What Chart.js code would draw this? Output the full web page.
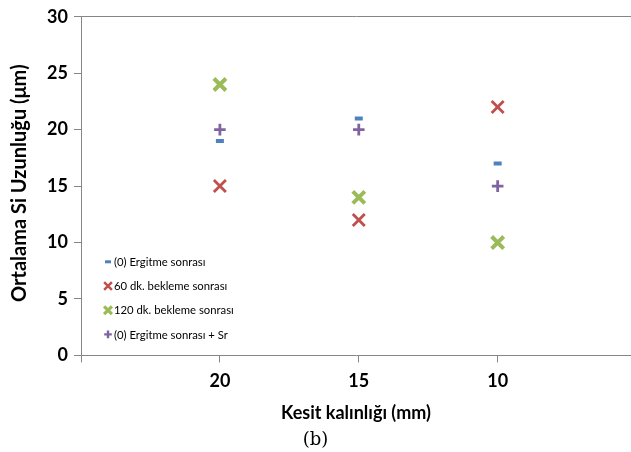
<!DOCTYPE html>
<html>
<head>
<meta charset="utf-8">
<script src="https://cdn.jsdelivr.net/npm/chart.js@4.4.1/dist/chart.umd.min.js"></script>
<style>
  html, body { margin: 0; padding: 0; background: #fff; }
  #wrap { width: 631px; height: 452px; }
</style>
</head>
<body>
<div id="wrap"><canvas id="chart" width="631" height="452"></canvas></div>
<script>
// Dữ liệu
const xLabels = ['', '20', '15', '10'];
const xPositions = [1, 2, 3];
const seriesNames = ['(0) Ergitme sonrası', '60 dk. bekleme sonrası', '120 dk. bekleme sonrası', '(0) Ergitme sonrası + Sr'];
const seriesColors = ['#4F81BD', '#C0504D', '#9BBB59', '#8064A2'];
const ergitme = [19, 21, 17];
const bekleme60 = [15, 12, 22];
const bekleme120 = [24, 14, 10];
const ergitmeSr = [20, 20, 15];
const yTicks = [0, 5, 10, 15, 20, 25, 30];

const FONT = 'Lato, Calibri, sans-serif';
const AXIS_GRAY = '#868686';

const markerStyles = [
    { pointStyle: 'line', radius: 4, borderWidth: 4, legendRadius: 3, legendWidth: 3 },
    { pointStyle: 'crossRot', radius: 8.5, borderWidth: 2.8, legendRadius: 5.5, legendWidth: 2.5 },
    { pointStyle: 'crossRot', radius: 8.5, borderWidth: 4, legendRadius: 5.5, legendWidth: 3.2 },
    { pointStyle: 'cross', radius: 5.8, borderWidth: 2.8, legendRadius: 3.8, legendWidth: 2.4 }
];

function toPoints(values) {
    return values.map((v, i) => ({ x: xPositions[i], y: v }));
}

const allSeries = [ergitme, bekleme60, bekleme120, ergitmeSr];

const datasets = allSeries.map((values, i) => ({
    label: seriesNames[i],
    data: toPoints(values),
    showLine: false,
    borderColor: seriesColors[i],
    backgroundColor: seriesColors[i],
    pointStyle: markerStyles[i].pointStyle,
    pointRadius: markerStyles[i].radius,
    pointBorderWidth: markerStyles[i].borderWidth,
    pointHoverRadius: markerStyles[i].radius
}));

// Chú thích nằm trong vùng vẽ + tiêu đề trục y
const insideLegend = {
    id: 'insideLegend',
    afterDraw(chart) {
        const ctx = chart.ctx;
        const area = chart.chartArea;
        ctx.save();
        ctx.font = '11.3px ' + FONT;
        ctx.textBaseline = 'middle';
        seriesNames.forEach((name, i) => {
            const y = area.top + 245 + i * 24.2;
            const x = area.left + 27;
            ctx.strokeStyle = seriesColors[i];
            ctx.fillStyle = seriesColors[i];
            ctx.lineWidth = markerStyles[i].legendWidth;
            Chart.helpers.drawPoint(ctx, {
                pointStyle: markerStyles[i].pointStyle,
                radius: markerStyles[i].legendRadius,
                borderWidth: ctx.lineWidth,
                rotation: 0
            }, x, y);
            ctx.fillStyle = '#000';
            ctx.fillText(name, x + 6, y + 0.5);
        });

        // tiêu đề trục y
        ctx.translate(26, (area.top + area.bottom) / 2 - 3);
        ctx.rotate(-Math.PI / 2);
        ctx.font = 'bold 20px ' + FONT;
        ctx.textAlign = 'center';
        ctx.textBaseline = 'alphabetic';
        ctx.fillStyle = '#000';
        ctx.fillText('Ortalama Si Uzunluğu (μm)', 0, 0);
        ctx.restore();
    }
};

const chart = new Chart(document.getElementById('chart').getContext('2d'), {
    type: 'scatter',
    data: { datasets },
    plugins: [insideLegend],
    options: {
        responsive: false,
        animation: false,
        layout: { autoPadding: false, padding: { top: 16, right: 0, left: 0, bottom: 1 } },
        plugins: {
            legend: { display: false },
            tooltip: { enabled: false },
            title: {
                display: true,
                position: 'bottom',
                text: '(b)',
                color: '#000',
                font: { family: '"DejaVu Serif", serif', size: 18, weight: 'normal' },
                padding: { top: 4, bottom: 0 }
            }
        },
        scales: {
            x: {
                type: 'linear',
                min: 0,
                max: 3.96,
                afterBuildTicks: s => { s.ticks = xLabels.map((l, i) => ({ value: i })); },
                afterFit: s => { s.height = 70; s.paddingLeft = 0; s.paddingRight = 0; },
                border: { color: AXIS_GRAY, width: 1 },
                grid: { drawOnChartArea: false, tickLength: 7, color: AXIS_GRAY },
                ticks: {
                    color: '#000',
                    padding: 8,
                    font: { family: FONT, size: 18, weight: 'bold' },
                    callback: (v, i) => xLabels[i]
                },
                title: {
                    display: true,
                    text: 'Kesit kalınlığı (mm)',
                    color: '#000',
                    font: { family: FONT, size: 18, weight: 'bold' },
                    padding: { top: 0, bottom: 1 }
                }
            },
            y: {
                min: 0,
                max: 30,
                afterBuildTicks: s => { s.ticks = yTicks.map(v => ({ value: v })); },
                afterFit: s => { s.width = 81; },
                border: { color: AXIS_GRAY, width: 1 },
                grid: {
                    tickLength: 7,
                    tickColor: AXIS_GRAY,
                    color: c => (c.tick && c.tick.value === 30 ? AXIS_GRAY : 'rgba(0,0,0,0)')
                },
                ticks: {
                    color: '#000',
                    padding: 6,
                    font: { family: FONT, size: 18, weight: 'bold' }
                }
            }
        }
    }
});
</script>
</body>
</html>
